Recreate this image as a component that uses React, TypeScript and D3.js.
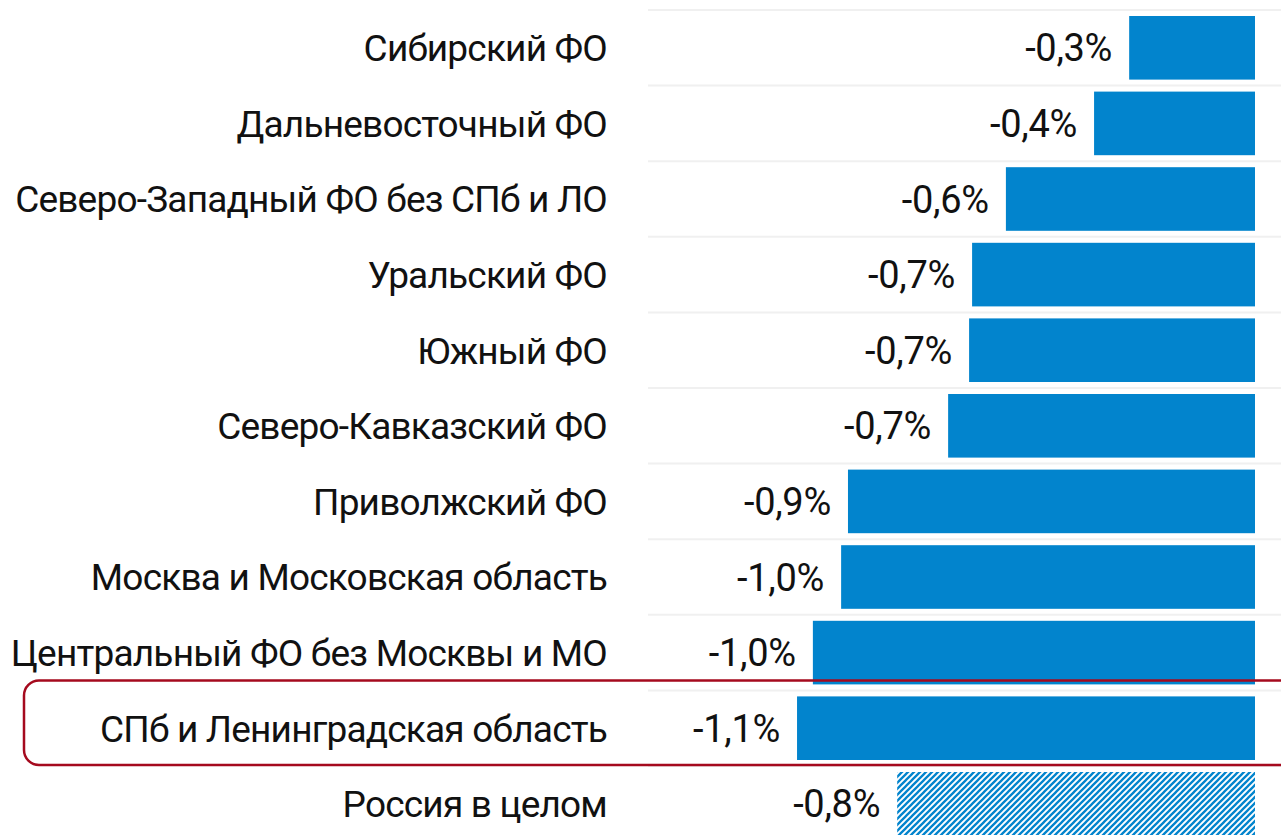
import React from 'react';
import * as d3 from 'd3';

const REGIONS = [
    'Сибирский ФО',
    'Дальневосточный ФО',
    'Северо-Западный ФО без СПб и ЛО',
    'Уральский ФО',
    'Южный ФО',
    'Северо-Кавказский ФО',
    'Приволжский ФО',
    'Москва и Московская область',
    'Центральный ФО без Москвы и МО',
    'СПб и Ленинградская область',
    'Россия в целом',
];

// unrounded estimates
const VALUES = [-0.294, -0.376, -0.582, -0.661, -0.668, -0.717, -0.951, -0.967, -1.033, -1.07, -0.836];
const LABELS = ['-0,3%', '-0,4%', '-0,6%', '-0,7%', '-0,7%', '-0,7%', '-0,9%', '-1,0%', '-1,0%', '-1,1%', '-0,8%'];

const HIGHLIGHT = 'СПб и Ленинградская область';
const TOTAL = 'Россия в целом';

const COLORS = {
    bar: '#0284CD',
    grid: '#F0F0F0',
    text: '#111111',
    highlight: '#A50A1E',
};

const W = 1281;
const H = 835;
const FONT = 'Roboto, "Noto Sans", sans-serif';

export default function App() {
    const x = d3.scaleLinear().domain([-1.5, 0]).range([613, 1255]);
    const y = d3.scaleBand<string>().domain(REGIONS).range([10, 10 + 75.6 * REGIONS.length]).padding(0);
    const step = y.step();
    const inset = 6;
    const labelX = 607;

    return (
        <svg width={W} height={H} style={{ position: 'absolute', left: 0, top: 0, background: '#fff' }}>
            <defs>
                <pattern id="hatch" patternUnits="userSpaceOnUse" width={6} height={6}>
                    <path d="M-1.5,1.5 L1.5,-1.5 M0,6 L6,0 M4.5,7.5 L7.5,4.5"
                        stroke={COLORS.bar} strokeWidth={2.3} />
                </pattern>
            </defs>

            {/* gridlines */}
            {REGIONS.map((r) => (
                <line key={'g' + r} x1={648} x2={W} y1={y(r)!} y2={y(r)!}
                    stroke={COLORS.grid} strokeWidth={2} />
            ))}

            {/* bars */}
            {REGIONS.map((r, i) => (
                <rect key={'b' + r}
                    x={x(VALUES[i])} y={y(r)! + inset}
                    width={x(0) - x(VALUES[i])} height={step - 2 * inset}
                    fill={r === TOTAL ? 'url(#hatch)' : COLORS.bar} />
            ))}

            {/* category labels */}
            {REGIONS.map((r) => (
                <text key={'l' + r} x={labelX} y={y(r)! + step / 2} dy="0.36em"
                    textAnchor="end" fontFamily={FONT} fontSize={37} letterSpacing={-0.8}
                    fill={COLORS.text}>
                    {r}
                </text>
            ))}

            {/* value labels */}
            {REGIONS.map((r, i) => (
                <text key={'v' + r} x={x(VALUES[i]) - 17} y={y(r)! + step / 2} dy="0.36em"
                    textAnchor="end" fontFamily={FONT} fontSize={38} letterSpacing={-0.3}
                    fill={COLORS.text}>
                    {LABELS[i]}
                </text>
            ))}

            {/* highlight frame */}
            <rect x={24} y={y(HIGHLIGHT)! - 10} width={W + 20 - 24} height={step + 9}
                rx={15} ry={15} fill="none" stroke={COLORS.highlight} strokeWidth={2.5} />
        </svg>
    );
}
